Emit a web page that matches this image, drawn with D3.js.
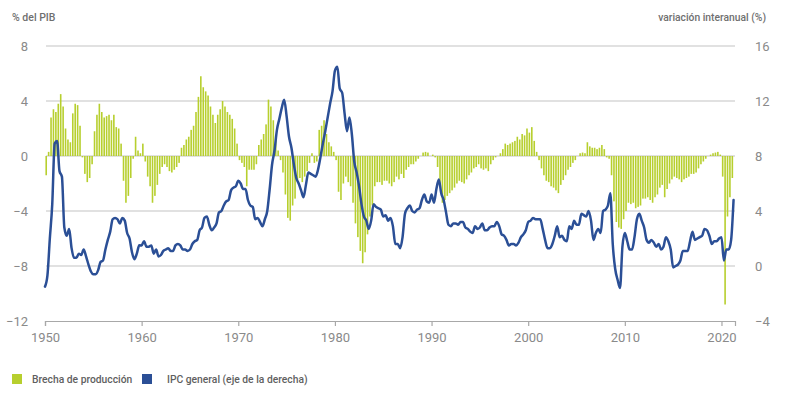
<!DOCTYPE html>
<html><head><meta charset="utf-8">
<script src="https://cdn.jsdelivr.net/npm/d3@7"></script>
<style>
html,body{margin:0;padding:0;background:#fff;}
svg{display:block;font-family:Roboto,"Liberation Sans",sans-serif;}
</style></head>
<body>
<svg id="chart" width="790" height="408"></svg>
<script>
// Quarterly data, first quarter = 1950Q1
const startYear = 1950;
const outputGap = [
-1.4,0.3,2.8,3.4, 3.2,3.8,4.5,3.6, 2.0,1.2,1.0,3.1, 3.8,3.7,2.2,-0.1,
-1.3,-1.9,-1.6,-0.6, 1.8,3.0,3.8,3.2, 2.8,2.9,3.0,2.6, 3.0,2.1,2.0,0.9,
-1.8,-3.4,-2.9,-1.6, -0.2,1.4,0.4,0.2, 0.9,-0.4,-1.5,-2.2, -3.4,-2.9,-2.1,-1.3,
-0.8,-0.6,-0.8,-1.1, -1.2,-1.0,-0.8,-0.5, 0.6,0.8,1.2,1.4, 1.9,2.2,3.2,4.3,
5.8,5.0,4.7,4.4, 3.6,3.0,2.4,3.0, 3.4,4.0,3.6,3.2, 3.0,2.7,2.0,0.9,
-0.3,-0.5,-0.8,-2.2, -1.0,-1.0,-1.0,-0.6, 0.8,1.2,1.6,2.3, 4.1,3.6,2.6,1.5,
0.4,-0.3,-1.2,-2.8, -4.5,-4.7,-3.6,-3.1, -1.8,-1.6,-1.9,-1.5, -1.1,-0.5,0.2,-0.5,
-0.4,1.9,2.2,2.6, 1.6,1.0,0.7,0.3, -0.3,-2.6,-3.2,-2.0, -1.5,-1.9,-2.2,-3.4,
-4.9,-5.9,-6.9,-7.8, -7.0,-5.7,-4.4,-3.6, -2.2,-1.9,-1.9,-2.1, -1.8,-1.8,-2.0,-2.2,
-1.9,-1.5,-1.7,-1.3, -1.6,-1.0,-0.8,-0.6, -0.6,-0.4,-0.2,0.0, 0.25,0.3,0.25,0.0,
0.1,-0.1,-0.8,-2.2, -3.4,-3.2,-2.9,-2.7, -2.5,-2.3,-2.0,-1.8, -1.9,-2.0,-1.7,-1.4,
-1.2,-0.9,-0.8,-0.6, -0.9,-1.0,-0.9,-1.1, -0.6,-0.3,-0.1,0.0, 0.2,0.5,0.9,0.8,
0.9,1.0,1.1,1.4, 1.2,1.6,1.5,2.0, 1.7,2.1,1.1,0.3, -0.3,-0.9,-1.4,-1.8,
-1.9,-2.2,-2.3,-2.5, -2.7,-2.1,-1.75,-1.4, -1.0,-0.8,-0.5,-0.3, 0.0,0.2,0.25,0.2,
1.0,0.7,0.6,0.6, 0.5,0.6,0.8,0.5, -0.1,-0.2,-1.4,-3.3, -4.8,-5.2,-5.3,-4.6,
-4.0,-3.4,-3.5,-3.4, -3.8,-3.7,-3.6,-3.1, -3.1,-3.0,-3.2,-3.4, -3.0,-2.8,-2.3,-2.1,
-3.0,-2.4,-2.0,-1.7, -1.5,-1.6,-1.7,-1.9, -1.7,-1.6,-1.5,-1.3, -1.3,-1.2,-0.9,-0.6,
-0.4,-0.2,0.0,0.1, 0.2,0.25,0.3,0.1, -1.5,-10.8,-4.4,-3.0, -1.6
];
const cpi = [
-1.5,-0.7,2.0,4.5, 8.9,9.1,6.9,6.5, 2.8,2.2,2.7,1.3, 0.6,0.6,0.9,0.8,
1.2,0.7,0.1,-0.4, -0.6,-0.6,-0.3,0.3, 0.4,1.2,1.9,2.5, 3.4,3.5,3.4,3.1,
3.5,3.3,2.4,2.0, 1.0,0.5,0.9,1.5, 1.5,1.8,1.4,1.4, 1.5,0.9,1.2,0.7,
0.8,1.1,1.2,1.3, 1.1,1.1,1.5,1.6, 1.5,1.2,1.2,1.1, 1.2,1.6,1.8,1.9,
2.6,2.8,3.5,3.6, 3.0,2.6,2.8,3.1, 3.9,4.0,4.4,4.7, 4.8,5.5,5.7,5.8,
6.2,6.0,5.6,5.6, 4.8,4.4,4.3,3.4, 3.5,3.2,2.9,3.4, 4.0,5.6,7.4,8.4,
9.9,10.7,11.5,12.1, 10.9,9.4,8.6,7.4, 6.4,6.0,5.5,5.0, 5.9,6.8,6.7,6.6,
6.5,7.0,7.9,8.9, 9.8,10.8,11.8,12.7, 14.2,14.5,12.9,12.6, 11.1,9.8,10.8,9.6,
7.6,6.8,5.8,4.5, 3.6,3.3,2.7,3.3, 4.5,4.3,4.2,4.1, 3.6,3.7,3.3,3.5,
2.9,1.6,1.6,1.3, 2.1,3.8,4.2,4.4, 4.0,3.9,4.1,4.2, 4.8,5.2,4.7,4.6,
5.2,4.6,5.6,6.3, 5.3,4.8,3.9,3.0, 2.9,3.1,3.1,3.0, 3.2,3.2,2.8,2.7,
2.5,2.4,2.9,2.7, 2.8,3.1,2.6,2.6, 2.8,2.9,2.9,3.2, 2.9,2.3,2.2,1.9,
1.5,1.6,1.6,1.5, 1.7,2.1,2.3,2.6, 3.2,3.3,3.5,3.4, 3.4,3.4,2.7,1.9,
1.3,1.3,1.6,2.2, 2.9,2.1,2.2,1.9, 1.8,2.9,2.7,3.3, 3.0,3.0,3.8,3.7,
3.6,4.0,3.3,1.9, 2.4,2.7,2.4,4.0, 4.1,4.4,5.3,1.6, -0.2,-1.0,-1.6,1.4,
2.4,1.8,1.2,1.2, 2.1,3.4,3.8,3.3, 2.8,1.9,1.7,1.9, 1.7,1.4,1.6,1.2,
1.4,2.1,1.8,1.2, -0.1,0.0,0.1,0.4, 1.1,1.1,1.1,1.8, 2.5,1.9,2.0,2.1,
2.2,2.7,2.6,2.2, 1.6,1.8,1.8,2.0, 2.1,0.4,1.2,1.2, 1.9,4.8
];
const xTicks = [1950,1960,1970,1980,1990,2000,2010,2020];
const leftTicks = [8,4,0,-4,-8,-12];
const rightTicks = [16,12,8,4,0,-4];
const legendLabels = ["Brecha de producción","IPC general (eje de la derecha)"];
const leftTitle = "% del PIB";
const rightTitle = "variación interanual (%)";

const svg = d3.select("#chart");
const x = d3.scaleLinear().domain([1950, 2021.4]).range([45, 735]);
const yL = d3.scaleLinear().domain([-12, 8]).range([321, 46]);
const yR = d3.scaleLinear().domain([-4, 16]).range([321, 46]);
const green = "#b7cf2e", blue = "#2b4f96", grid = "#c4c4c4", txt = "#8a8a8a";

// gridlines
svg.append("g").selectAll("line").data(leftTicks.filter(d => d > -12)).join("line")
  .attr("x1", 46).attr("x2", 735)
  .attr("y1", d => yL(d)).attr("y2", d => yL(d))
  .attr("stroke", grid).attr("stroke-width", 1.2);

// bars
const bw = 1.6;
svg.append("g").selectAll("rect").data(outputGap).join("rect")
  .attr("x", (d, i) => x(startYear + i / 4 + 0.125) - bw / 2)
  .attr("width", bw)
  .attr("y", d => Math.min(yL(d), yL(0)))
  .attr("height", d => Math.abs(yL(d) - yL(0)))
  .attr("fill", green);

// x axis
const xAxis = d3.axisBottom(x).tickValues(xTicks).tickFormat(d3.format("d")).tickSize(5).tickPadding(7);
const gx = svg.append("g").attr("transform", `translate(0,${yL(-12)})`).call(xAxis);
gx.select(".domain").attr("stroke", "#a8a8a8").attr("stroke-width", 1.2);
gx.selectAll(".tick line").attr("stroke", "#a8a8a8").attr("stroke-width", 1.2);
gx.selectAll(".tick text").attr("fill", txt).attr("font-size", 13).attr("font-family", "Roboto");

// left axis labels
const ayL = d3.axisLeft(yL).tickValues(leftTicks).tickSize(0).tickPadding(0).tickFormat(d => d < 0 ? "\u2212" + Math.abs(d) : d);
const gl = svg.append("g").attr("transform", "translate(28,0)").call(ayL);
gl.select(".domain").remove();
gl.selectAll("text").attr("fill", txt).attr("font-size", 13).attr("font-family", "Roboto");

// right axis labels
const ayR = d3.axisRight(yR).tickValues(rightTicks).tickSize(0).tickPadding(0).tickFormat(d => d < 0 ? "\u2212" + Math.abs(d) : d);
const gr = svg.append("g").attr("transform", "translate(755,0)").call(ayR);
gr.select(".domain").remove();
gr.selectAll("text").attr("fill", txt).attr("font-size", 13).attr("font-family", "Roboto");

// CPI line
const line = d3.line().x((d, i) => x(startYear + i / 4)).y(d => yR(d)).curve(d3.curveMonotoneX);
svg.append("path").datum(cpi).attr("d", line)
  .attr("fill", "none").attr("stroke", blue).attr("stroke-width", 2.5)
  .attr("stroke-linejoin", "round").attr("stroke-linecap", "round");

// titles
svg.append("text").attr("x", 12).attr("y", 21).text(leftTitle)
  .attr("fill", "#6f6f6f").attr("font-size", 10.5).attr("font-weight", 500);
svg.append("text").attr("x", 766).attr("y", 21).attr("text-anchor", "end").text(rightTitle)
  .attr("fill", "#6f6f6f").attr("font-size", 10.3).attr("font-weight", 500);

// legend
const lg = svg.append("g");
const legendColors = [green, blue];
const legendX = [12, 142];
legendLabels.forEach((t, i) => {
  lg.append("rect").attr("x", legendX[i]).attr("y", 374).attr("width", 10).attr("height", 10).attr("fill", legendColors[i]);
  lg.append("text").attr("x", legendX[i] + (i === 0 ? 20 : 25)).attr("y", 383).text(t)
    .attr("fill", "#5f5f5f").attr("font-size", 10.3).attr("font-weight", 500);
});
</script>
</body></html>
